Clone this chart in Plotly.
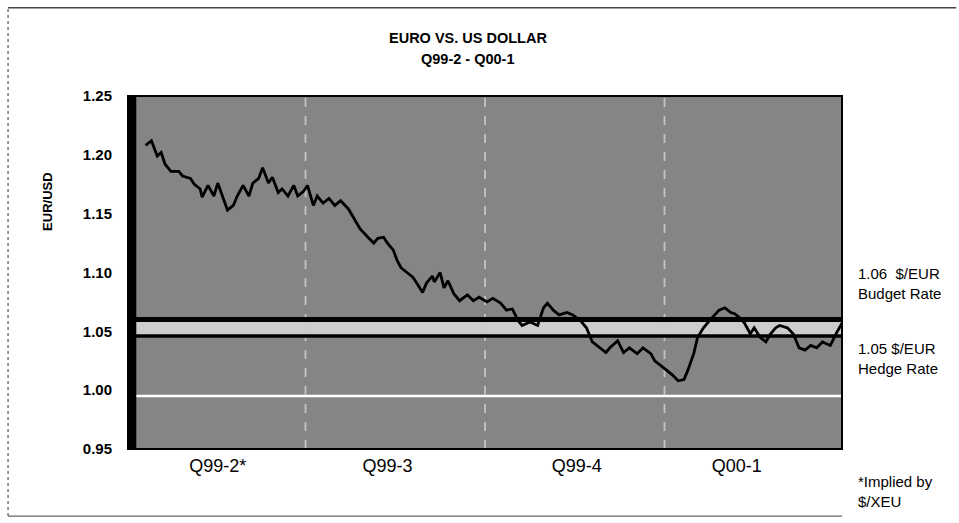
import pandas as pd
import plotly.graph_objects as go

# ---- data ----
start_date = "1999-04-01"
day_offsets = [9, 12, 15, 17, 19, 22, 26, 28, 32, 34, 37, 38, 41, 44, 46, 49, 51, 54, 56, 59,
               62, 64, 67, 69, 72, 74, 77, 79, 82, 85, 87, 90, 92, 95, 97, 100, 103, 106, 109, 113,
               116, 119, 123, 126, 128, 131, 133, 136, 138, 140, 143, 146, 148, 151, 153, 156, 157, 160, 162, 164,
               167, 170, 174, 177, 180, 184, 187, 191, 194, 197, 200, 202, 206, 210, 213, 215, 218, 221, 225, 228,
               232, 235, 238, 242, 245, 247, 251, 254, 257, 261, 264, 268, 270, 273, 276, 279, 282, 285, 287, 290,
               292, 295, 298, 301, 303, 306, 309, 311, 314, 316, 319, 321, 324, 327, 329, 332, 334, 338, 341, 344,
               347, 350, 353, 356, 360, 363, 366]
eur_usd = [1.208, 1.212, 1.199, 1.202, 1.192, 1.186, 1.186, 1.182, 1.180, 1.175, 1.171, 1.164, 1.174, 1.165, 1.176, 1.161, 1.153, 1.157, 1.165, 1.174,
           1.165, 1.176, 1.180, 1.189, 1.176, 1.181, 1.168, 1.171, 1.165, 1.174, 1.165, 1.169, 1.174, 1.157, 1.165, 1.159, 1.163, 1.157, 1.161, 1.154,
           1.146, 1.137, 1.130, 1.125, 1.129, 1.130, 1.125, 1.119, 1.110, 1.104, 1.100, 1.096, 1.091, 1.083, 1.091, 1.097, 1.092, 1.100, 1.087, 1.093,
           1.082, 1.076, 1.081, 1.076, 1.079, 1.075, 1.078, 1.074, 1.068, 1.069, 1.059, 1.055, 1.058, 1.055, 1.070, 1.074, 1.068, 1.064, 1.066, 1.064,
           1.059, 1.053, 1.041, 1.036, 1.032, 1.036, 1.042, 1.032, 1.036, 1.031, 1.036, 1.031, 1.025, 1.021, 1.017, 1.013, 1.008, 1.009, 1.017, 1.031,
           1.045, 1.053, 1.059, 1.065, 1.068, 1.070, 1.066, 1.065, 1.061, 1.057, 1.048, 1.053, 1.045, 1.041, 1.047, 1.053, 1.055, 1.053, 1.048, 1.036,
           1.034, 1.038, 1.036, 1.041, 1.038, 1.048, 1.057]

budget_rate = 1.06
hedge_rate = 1.046
grid_level = 0.995
quarter_starts = ["1999-07-01", "1999-10-01", "2000-01-01"]
tick_dates = ["1999-05-17", "1999-08-12", "1999-11-17", "2000-02-07"]
tick_labels = ["Q99-2*", "Q99-3", "Q99-4", "Q00-1"]
y_ticks = [0.95, 1.00, 1.05, 1.10, 1.15, 1.20, 1.25]

dates = pd.to_datetime(start_date) + pd.to_timedelta(day_offsets, unit="D")
x_min = pd.to_datetime(start_date)
x_max = pd.to_datetime("2000-04-01")

FONT = "Liberation Sans, Arial, sans-serif"

fig = go.Figure()
fig.add_trace(go.Scatter(x=dates, y=eur_usd, mode="lines",
                         line=dict(color="black", width=2.8), hoverinfo="skip",
                         showlegend=False))

shapes = []
# light band between the two rates
shapes.append(dict(type="rect", xref="paper", yref="y", x0=0, x1=1,
                   y0=hedge_rate, y1=budget_rate, fillcolor="#cccccc",
                   line=dict(width=0), layer="below"))
# white grid line
shapes.append(dict(type="line", xref="paper", yref="y", x0=0, x1=1,
                   y0=grid_level, y1=grid_level, line=dict(color="white", width=2.5),
                   layer="below"))
# quarter separators
for q in quarter_starts:
    shapes.append(dict(type="line", xref="x", yref="paper", x0=q, x1=q, y0=0, y1=1,
                       line=dict(color="#c4c4c4", width=1.8, dash="dash"), layer="below"))
# rate lines
shapes.append(dict(type="line", xref="paper", yref="y", x0=0, x1=1,
                   y0=budget_rate, y1=budget_rate, line=dict(color="black", width=5),
                   layer="below"))
shapes.append(dict(type="line", xref="paper", yref="y", x0=0, x1=1,
                   y0=hedge_rate, y1=hedge_rate, line=dict(color="black", width=3.5),
                   layer="below"))
# thick left edge
shapes.append(dict(type="line", xref="paper", yref="paper", x0=0.006, x1=0.006, y0=0, y1=1,
                   line=dict(color="black", width=8), layer="above"))
# plot frame
shapes.append(dict(type="rect", xref="paper", yref="paper", x0=0, x1=1, y0=0, y1=1,
                   line=dict(color="black", width=2), layer="above"))
# outer page frame (top, left, bottom)
shapes.append(dict(type="line", xref="paper", yref="paper", x0=-0.168, x1=1.16, y0=1.25, y1=1.25,
                   line=dict(color="#444444", width=1.5)))
shapes.append(dict(type="line", xref="paper", yref="paper", x0=-0.168, x1=-0.168, y0=-0.19, y1=1.25,
                   line=dict(color="#555555", width=1.2, dash="dot")))
shapes.append(dict(type="line", xref="paper", yref="paper", x0=-0.168, x1=1.0, y0=-0.19, y1=-0.19,
                   line=dict(color="#666666", width=1.2)))

annotations = [
    dict(text="<b>EURO VS. US DOLLAR</b>", xref="paper", yref="paper", x=0.476, y=1.164,
         showarrow=False, font=dict(family=FONT, size=14.5, color="black"), xanchor="center", yanchor="middle"),
    dict(text="<b>Q99-2 - Q00-1</b>", xref="paper", yref="paper", x=0.476, y=1.106,
         showarrow=False, font=dict(family=FONT, size=14.5, color="black"), xanchor="center", yanchor="middle"),
    dict(text="<b>EUR/USD</b>", xref="paper", yref="paper", x=-0.112, y=0.70, textangle=-90,
         showarrow=False, font=dict(family=FONT, size=13, color="black"), xanchor="center", yanchor="middle"),
    dict(text="1.06  $/EUR<br>Budget Rate", xref="paper", yref="paper", x=1.02, y=0.47,
         showarrow=False, align="left", xanchor="left", yanchor="middle",
         font=dict(family=FONT, size=15, color="black")),
    dict(text="1.05 $/EUR<br>Hedge Rate", xref="paper", yref="paper", x=1.02, y=0.255,
         showarrow=False, align="left", xanchor="left", yanchor="middle",
         font=dict(family=FONT, size=15, color="black")),
    dict(text="*Implied by<br>$/XEU", xref="paper", yref="paper", x=1.02, y=-0.12,
         showarrow=False, align="left", xanchor="left", yanchor="middle",
         font=dict(family=FONT, size=15, color="black")),
]

fig.update_layout(
    width=959, height=523,
    margin=dict(l=128, r=117, t=96, b=74),
    paper_bgcolor="white",
    plot_bgcolor="#858585",
    shapes=shapes,
    annotations=annotations,
    showlegend=False,
    font=dict(family=FONT, color="black"),
    xaxis=dict(range=[x_min, x_max], showgrid=False, zeroline=False,
               tickmode="array", tickvals=pd.to_datetime(tick_dates), ticktext=tick_labels,
               ticks="", ticklabelstandoff=4,
               tickfont=dict(family=FONT, size=18, color="black"), showline=False),
    yaxis=dict(range=[0.95, 1.25], showgrid=False, zeroline=False,
               tickmode="array", tickvals=y_ticks,
               ticktext=[f"<b>{v:.2f}</b>" for v in y_ticks],
               ticks="", ticklabelstandoff=15,
               tickfont=dict(family=FONT, size=15, color="black"),
               showline=False),
)

fig.write_html("out.html")
